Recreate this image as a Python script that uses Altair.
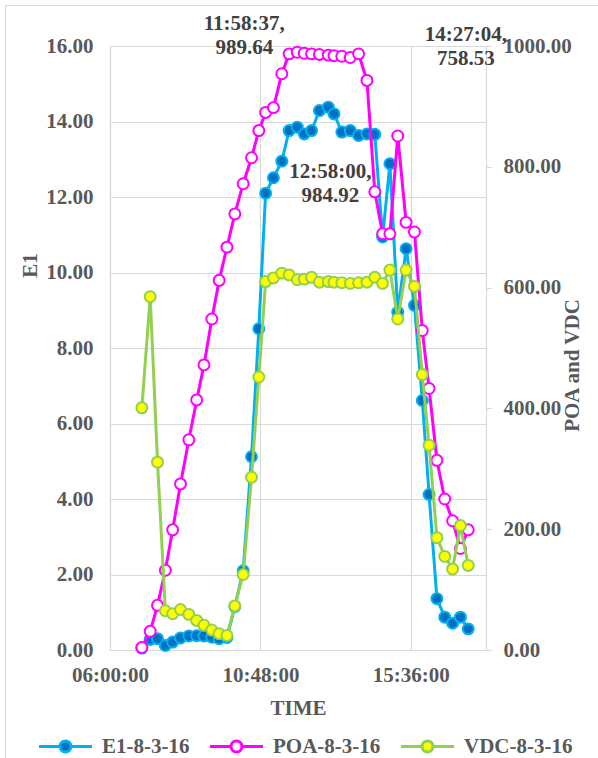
import altair as alt
import pandas as pd

# ---------------- data ----------------
TIMES = ["07:01:00", "07:17:00", "07:31:00", "07:46:00", "08:00:00", "08:15:00",
         "08:31:00", "08:46:00", "09:00:00", "09:15:00", "09:29:00", "09:44:00",
         "09:59:00", "10:15:00", "10:31:00", "10:45:00", "10:58:00", "11:13:00",
         "11:29:00", "11:43:00", "11:58:37", "12:12:00", "12:26:00", "12:41:00",
         "12:58:00", "13:09:00", "13:24:00", "13:40:00", "13:56:00", "14:12:00",
         "14:27:04", "14:42:00", "14:56:00", "15:11:00", "15:27:00", "15:43:00",
         "15:58:00", "16:11:00", "16:26:00", "16:41:00", "16:56:00", "17:11:00",
         "17:26:00"]

E1 = [0.05, 0.28, 0.30, 0.12, 0.21, 0.32, 0.37, 0.38, 0.37, 0.34, 0.30, 0.33,
      1.15, 2.10, 5.12, 8.51, 12.10, 12.51, 12.95, 13.76, 13.85, 13.67, 13.76,
      14.29, 14.38, 14.20, 13.72, 13.76, 13.63, 13.67, 13.66, 10.94, 12.88, 8.95,
      10.63, 9.13, 6.61, 4.12, 1.36, 0.87, 0.71, 0.87, 0.56]

POA = [4, 31, 74, 132, 199, 275, 348, 414, 472, 548, 612, 667, 722, 772, 815,
       860, 890, 898, 954, 987, 989.64, 988, 987, 986, 984.92, 984, 983, 981,
       987, 943, 758.53, 689, 689, 851, 708, 692, 529, 433, 314, 250, 214, 168,
       199]

VDC = [401, 585, 311, 65, 60, 67, 59, 49, 41, 33, 27, 24, 73, 125, 286, 452,
       610, 616, 624, 621, 613, 614, 617, 609, 610, 609, 608, 607, 608, 609, 617,
       607, 629, 548, 629, 602, 456, 339, 186, 155, 134, 206, 140]

SERIES = ["E1-8-3-16", "POA-8-3-16", "VDC-8-3-16"]
LINE_COLORS = ["#00B0F0", "#FF00FF", "#92D050"]
MARKER_FILLS = ["#0070C0", "#FFFFFF", "#FFFF00"]

X_TICK_HOURS = [6, 10.8, 15.6]
X_TICK_LABELS = ["06:00:00", "10:48:00", "15:36:00"]
LEFT_TICKS = [0, 2, 4, 6, 8, 10, 12, 14, 16]
RIGHT_TICKS = [0, 200, 400, 600, 800, 1000]

ANNOT_TIMES = ["11:58:37", "12:58:00", "14:27:04"]
ANNOT_VALUES = [989.64, 984.92, 758.53]


def to_hours(s):
    h, m, sec = (int(p) for p in s.split(":"))
    return h + m / 60 + sec / 3600


hours = [to_hours(t) for t in TIMES]
df_e1 = pd.DataFrame({"hours": hours, "value": E1, "series": SERIES[0]})
df_poa = pd.DataFrame({"hours": hours, "value": POA, "series": SERIES[1]})
df_vdc = pd.DataFrame({"hours": hours, "value": VDC, "series": SERIES[2]})
df_ann = pd.DataFrame({
    "hours": [to_hours(t) for t in ANNOT_TIMES],
    "value": ANNOT_VALUES,
    "label": [f"{t},\n{v:.2f}" for t, v in zip(ANNOT_TIMES, ANNOT_VALUES)],
})

# ---------------- styling ----------------
FONT = "Liberation Serif"
GREY_TXT = "#595959"
GRID = "#D9D9D9"

label_expr = "{}[indexof({}, datum.value)]".format(
    "[" + ",".join("'%s'" % s for s in X_TICK_LABELS) + "]",
    "[" + ",".join(str(v) for v in X_TICK_HOURS) + "]",
)

x_enc = alt.X(
    "hours:Q",
    scale=alt.Scale(domain=[6, 18], nice=False, zero=False),
    axis=alt.Axis(values=X_TICK_HOURS, labelExpr=label_expr, title="TIME",
                  grid=True, ticks=False, labelPadding=14, labelFlush=False,
                  titleX=188, titleY=58, titleBaseline="middle"),
)

y_left = alt.Y(
    "value:Q",
    scale=alt.Scale(domain=[0, 16], nice=False),
    axis=alt.Axis(orient="left", values=LEFT_TICKS, format=".2f", title="E1",
                  grid=True, ticks=False, labelPadding=17, labelFlush=False,
                  titleAngle=270, titleX=-80, titleY=219,
                  titleBaseline="middle"),
)

y_right = alt.Y(
    "value:Q",
    scale=alt.Scale(domain=[0, 1000], nice=False),
    axis=alt.Axis(orient="right", values=RIGHT_TICKS, format=".2f",
                  title="POA and VDC", grid=False, ticks=True, tickSize=5,
                  labelPadding=12, labelFlush=False, titleAngle=270,
                  titleX=86, titleY=319, titleBaseline="middle"),
)

LEGEND_PATH = ("M-4.84,0L-1,0M1,0L4.84,0M1,0A1,1,0,1,1,-1,0"
               "A1,1,0,1,1,1,0Z")
legend = alt.Legend(
    orient="none", legendX=-55, legendY=690, direction="horizontal",
    title=None, symbolType=LEGEND_PATH, symbolSize=120, symbolStrokeWidth=3,
    labelFont=FONT, labelFontSize=21, labelFontWeight="bold",
    labelColor=GREY_TXT, labelOffset=26, columnPadding=13, padding=0,
)

fill_enc = alt.Fill("series:N", scale=alt.Scale(domain=SERIES, range=MARKER_FILLS),
                    legend=legend)
stroke_enc = alt.Stroke("series:N", scale=alt.Scale(domain=SERIES, range=LINE_COLORS),
                        legend=legend)


def series_layers(df, color, y_enc):
    base = alt.Chart(df)
    line = base.mark_line(color=color, strokeWidth=3).encode(x=x_enc, y=y_enc)
    pts = base.mark_point(filled=True, size=120, strokeWidth=2, opacity=1).encode(
        x=x_enc, y=y_enc, fill=fill_enc, stroke=stroke_enc)
    return [line, pts]


# thin grey frame around the whole chart area (Excel chart border)
frame = alt.Chart(pd.DataFrame({"k": [0]})).mark_rect(
    fill=None, stroke=GRID, strokeWidth=1
).encode(x=alt.value(-104.5), x2=alt.value(700), y=alt.value(-40.5),
         y2=alt.value(900))

left = alt.layer(frame, *series_layers(df_e1, LINE_COLORS[0], y_left))

ann_offsets = [(-53, -28), (2, 117), (91, -157)]
ann_layers = []
for i, (dx, dy) in enumerate(ann_offsets):
    ann_layers.append(
        alt.Chart(df_ann.iloc[[i]]).mark_text(
            font=FONT, fontSize=21, fontWeight="bold", color="#404040",
            lineBreak="\n", lineHeight=24, align="center", baseline="middle",
            dx=dx, dy=dy,
        ).encode(x=x_enc, y=y_right, text="label:N")
    )

right = alt.layer(
    *series_layers(df_poa, LINE_COLORS[1], y_right),
    *series_layers(df_vdc, LINE_COLORS[2], y_right),
    *ann_layers,
)

chart = (
    alt.layer(left, right)
    .resolve_scale(y="independent")
    .properties(
        width=376, height=604,
        autosize=alt.AutoSizeParams(type="none"),
        padding={"left": 110, "top": 46, "right": 112, "bottom": 108},
        background="white",
    )
    .configure_view(stroke=None)
    .configure_axis(
        labelFont=FONT, labelFontSize=21, labelFontWeight="bold",
        labelColor=GREY_TXT, titleFont=FONT, titleFontSize=21,
        titleFontWeight="bold", titleColor=GREY_TXT, gridColor=GRID,
        domainColor=GRID, tickColor=GRID, domainWidth=1.2, gridWidth=1.2,
    )
)

chart.save("out.html", embed_options={"renderer": "svg", "actions": False})
